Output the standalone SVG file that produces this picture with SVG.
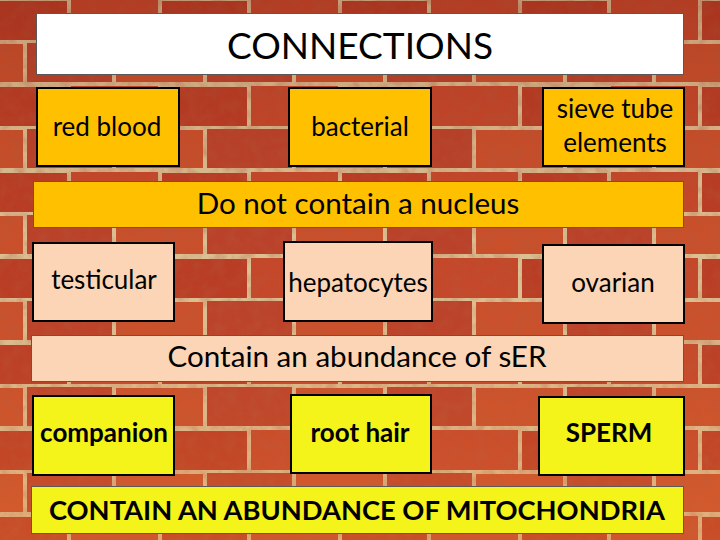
<svg xmlns="http://www.w3.org/2000/svg" width="720" height="540" viewBox="0 0 720 540">
<style>
text{font-family:Lato,"Open Sans","Liberation Sans",sans-serif;fill:#000;text-anchor:middle}
.t{font-size:26px}
.w{font-size:29.6px}
.b{font-size:26px;font-weight:bold}
.bw{font-size:27.3px;font-weight:bold}
.orange{fill:#FFC000}
.peach{fill:#FBD5B5}
.yellow{fill:#F4F31A}
.card{stroke:#000;stroke-width:2}
.bar{stroke:#595959;stroke-width:1}
</style>
<defs>
<pattern id="bricks" width="180" height="86" patternUnits="userSpaceOnUse" x="-20" y="-2">
<rect width="180" height="86" fill="#DCC79A"/>
<rect x="2" y="3" width="85" height="39" fill="#B83C24"/>
<rect x="91" y="2" width="87" height="40" fill="#C4472A"/>
<rect x="-44" y="46" width="87" height="38" fill="#C9502B"/>
<rect x="47" y="45" width="85" height="39" fill="#B9412A"/>
<rect x="136" y="46" width="87" height="38" fill="#C9502B"/>
</pattern>
<linearGradient id="shade" x1="0" y1="0" x2="0" y2="1">
<stop offset="0" stop-color="#7A1E10" stop-opacity="0.25"/>
<stop offset="0.5" stop-color="#D0502A" stop-opacity="0.05"/>
<stop offset="1" stop-color="#F07A30" stop-opacity="0.3"/>
</linearGradient>
<filter id="grain" x="0" y="0" width="100%" height="100%">
<feTurbulence type="fractalNoise" baseFrequency="0.08" numOctaves="3" seed="4"/>
<feColorMatrix type="matrix" values="0 0 0 0 0.45  0 0 0 0 0.1  0 0 0 0 0.05  0 0 0 1.2 -0.45"/>
</filter>
</defs>
<g id="background">
<rect width="720" height="540" fill="url(#bricks)"/>
<rect width="720" height="540" filter="url(#grain)" opacity="0.6"/>
<rect width="720" height="540" fill="url(#shade)"/>
</g>
<g id="title">
<rect x="36.5" y="13.5" width="647" height="61" fill="#fff" stroke="#595959" stroke-width="1"/>
<text x="360" y="59" style="font-size:37px">CONNECTIONS</text>
</g>
<g id="red-blood">
<rect class="orange card" x="37" y="88" width="142" height="78"/>
<text class="t" x="107" y="136">red blood</text>
</g>
<g id="bacterial">
<rect class="orange card" x="289" y="88" width="142" height="78"/>
<text class="t" x="360" y="136">bacterial</text>
</g>
<g id="sieve-tube">
<rect class="orange card" x="543" y="88" width="141" height="78"/>
<text class="t" x="615" y="118">sieve tube</text>
<text class="t" x="615" y="152">elements</text>
</g>
<g id="no-nucleus">
<rect class="orange bar" x="33.5" y="181.5" width="650" height="46"/>
<text class="w" x="358" y="214">Do not contain a nucleus</text>
</g>
<g id="testicular">
<rect class="peach card" x="33" y="243" width="141" height="78"/>
<text class="t" x="104" y="289">testicular</text>
</g>
<g id="hepatocytes">
<rect class="peach card" x="284" y="242" width="148" height="79"/>
<text class="t" x="358" y="292">hepatocytes</text>
</g>
<g id="ovarian">
<rect class="peach card" x="543" y="245" width="141" height="78"/>
<text class="t" x="613" y="292">ovarian</text>
</g>
<g id="ser">
<rect class="peach bar" x="31.5" y="335.5" width="652" height="46"/>
<text class="w" x="357" y="367">Contain an abundance of sER</text>
</g>
<g id="companion">
<rect class="yellow card" x="33" y="396" width="141" height="79"/>
<text class="b" x="104" y="442">companion</text>
</g>
<g id="root-hair">
<rect class="yellow card" x="291" y="395" width="140" height="78"/>
<text class="b" x="360" y="442">root hair</text>
</g>
<g id="sperm">
<rect class="yellow card" x="539" y="397" width="145" height="78"/>
<text class="b" x="609" y="442">SPERM</text>
</g>
<g id="mitochondria">
<rect class="yellow bar" x="31.5" y="486.5" width="652" height="47"/>
<text class="bw" x="357" y="520">CONTAIN AN ABUNDANCE OF MITOCHONDRIA</text>
</g>
</svg>
